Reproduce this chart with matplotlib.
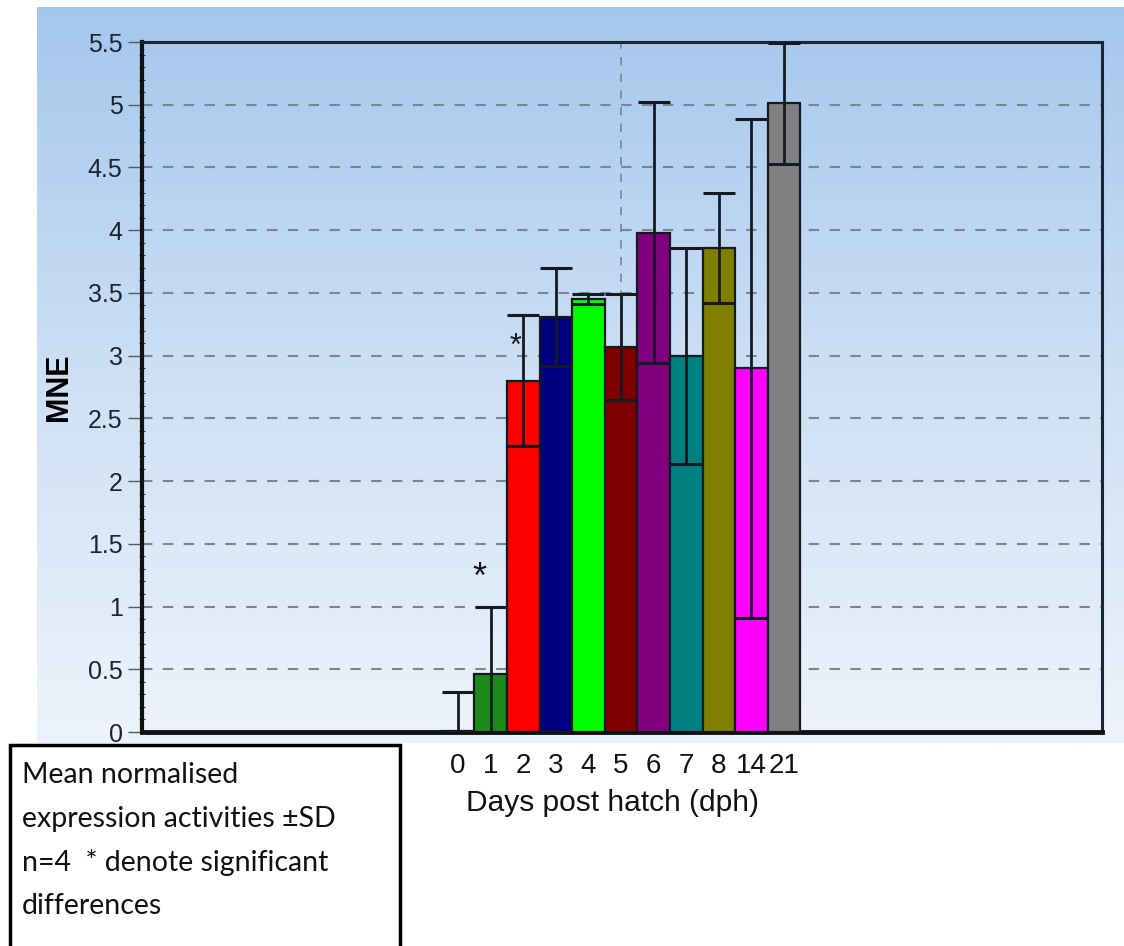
import numpy as np
import matplotlib.pyplot as plt
from matplotlib.patches import Rectangle
from matplotlib.colors import LinearSegmentedColormap

# Data:
days = ["0", "1", "2", "3", "4", "5", "6", "7", "8", "14", "21"]
mne = [0.01, 0.46, 2.80, 3.31, 3.45, 3.07, 3.98, 3.00, 3.86, 2.90, 5.01]
sd = [0.31, 0.54, 0.52, 0.39, 0.04, 0.42, 1.04, 0.86, 0.44, 1.99, 0.48]
bar_colors = ["#0000ff", "#1b8a1b", "#ff0000", "#000080", "#00ff00", "#800000",
              "#800080", "#008080", "#808000", "#ff00ff", "#808080"]
sig_days = ["1", "2"]
note_lines = ["Mean normalised", "expression activities \u00b1SD",
              "n=4  * denote significant", "differences"]

# Figure:
W, H = 1124, 946
fig = plt.figure(figsize=(W / 100, H / 100), dpi=100)
fig.patch.set_facecolor("white")

# gradient backdrop
bg = fig.add_axes([37 / W, 1 - 743 / H, (W - 37) / W, 736 / H], zorder=0)
cmap = LinearSegmentedColormap.from_list("sky", ["#a4c7ed", "#cde0f5", "#eef3fb"])
bg.imshow(np.linspace(0, 1, 256).reshape(-1, 1), aspect="auto", cmap=cmap,
          extent=[0, 1, 0, 1], origin="upper")
bg.axis("off")

ax = fig.add_axes([142 / W, 1 - 732 / H, 960 / W, 690 / H], zorder=1)
ax.set_facecolor("none")

x = np.arange(len(days))
ax.bar(x, mne, width=1.0, color=bar_colors, edgecolor="#151a22", linewidth=1.6, zorder=3)
ax.errorbar(x, mne, yerr=sd, fmt="none", ecolor="#151a22", elinewidth=2,
            capsize=11.5, capthick=2.2, zorder=4)

# significance asterisks
star_style = {"1": (-0.35, 0.22, 26), "2": (-0.25, -0.25, 22)}
for d in sig_days:
    i = days.index(d)
    dx, dy, fs = star_style[d]
    ax.text(x[i] + dx, mne[i] + sd[i] + dy, "*", ha="center", va="center",
            fontsize=fs, color="#151a22", family="Liberation Sans", zorder=5)

ax.set_xlim(-9.69, 19.75)
ax.set_ylim(0, 5.5)
ax.set_yticks(np.arange(0, 5.51, 0.5))
ax.set_yticklabels(["0", "0.5", "1", "1.5", "2", "2.5", "3", "3.5", "4", "4.5", "5", "5.5"],
                   family="Liberation Sans", fontsize=18, color="#1c2433")
ax.set_yticks(np.arange(0, 5.51, 0.1), minor=True)
ax.tick_params(axis="y", which="major", length=10, width=1, color="#505a66", pad=4)
ax.tick_params(axis="y", which="minor", direction="inout", length=5, width=0.8, color="#303844")

ax.set_xticks(x)
ax.set_xticklabels(days, family="Liberation Sans", fontsize=20, color="#111111")
ax.set_xticks([5], minor=True)
ax.tick_params(axis="x", which="major", length=0, pad=15)
ax.tick_params(axis="x", which="minor", length=9, width=1, color="#505a66")

ax.grid(axis="y", linestyle=(0, (5, 5)), color="#7a8590", linewidth=1.5, zorder=0)
ax.axvline(5, linestyle=(0, (5, 5)), color="#7a8590", linewidth=1.2, zorder=0)
ax.set_axisbelow(True)

for side in ["top", "right"]:
    ax.spines[side].set_linewidth(2.2)
    ax.spines[side].set_color("#1a2535")
ax.spines["left"].set_linewidth(3)
ax.spines["bottom"].set_linewidth(3.5)
ax.spines["left"].set_color("#111111")
ax.spines["bottom"].set_color("#111111")

ax.set_ylabel("MNE", family="Liberation Sans", fontsize=22, fontweight="bold", labelpad=10)
ax.set_xlabel("Days post hatch (dph)", family="Liberation Sans", fontsize=21.5,
              color="#111111")
ax.xaxis.set_label_coords(0.49, -0.083)

# note box
fig.patches.append(Rectangle((10 / W, -0.01), 390 / W, 1 - 745 / H + 0.01,
                             transform=fig.transFigure, facecolor="white",
                             edgecolor="black", linewidth=2.5, zorder=2))
for k, line in enumerate(note_lines):
    fig.text(22 / W, 1 - (775 + 43.5 * k) / H, line, ha="left", va="center",
             family="Lato", fontsize=20.5, color="#111111", zorder=3)

fig.savefig("out.png", dpi=100)
